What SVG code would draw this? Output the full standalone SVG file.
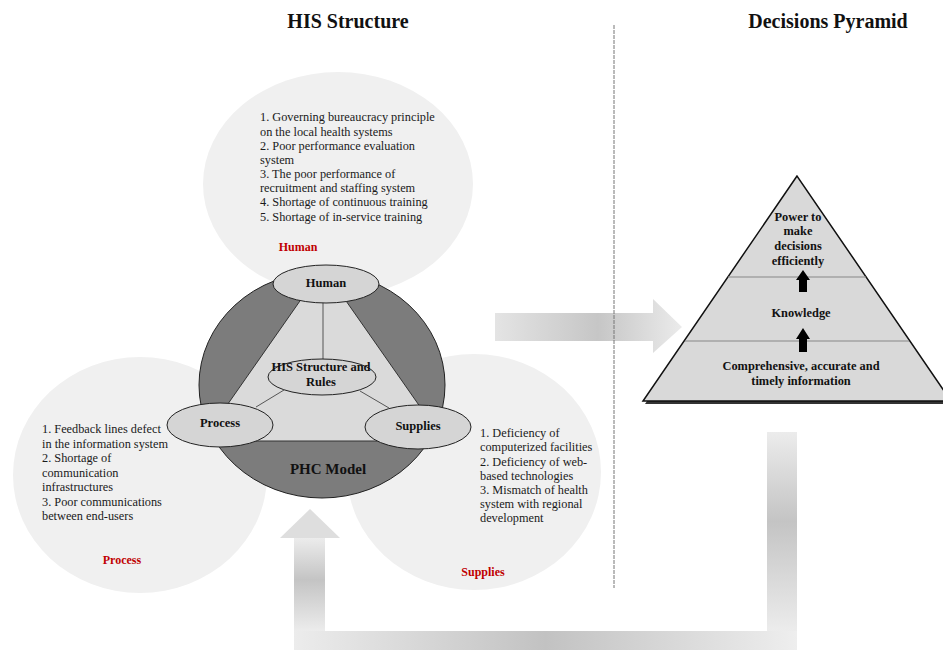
<svg xmlns="http://www.w3.org/2000/svg" width="943" height="650" viewBox="0 0 943 650">
<style>
.title{font-family:"Liberation Serif",serif;font-weight:bold;font-size:20px;fill:#111;text-anchor:middle}
.body{font-family:"Liberation Serif",serif;font-size:12.3px;fill:#1a1a1a}
.red{font-family:"Liberation Serif",serif;font-weight:bold;font-size:12px;fill:#c00000;text-anchor:middle}
.lbl{font-family:"Liberation Serif",serif;font-weight:bold;font-size:12.5px;fill:#111;text-anchor:middle}
.pyr{font-family:"Liberation Serif",serif;font-weight:bold;font-size:12.4px;fill:#111;text-anchor:middle}
.bg{fill:#f0f0f0}
.node{fill:#d5d5d5;stroke:#222;stroke-width:1}
.link{stroke:#333;stroke-width:0.8;fill:none}
</style>
<defs>
<linearGradient id="gh" x1="0" y1="0" x2="1" y2="0">
<stop offset="0" stop-color="#e4e4e4"/><stop offset="0.55" stop-color="#c6c6c6"/><stop offset="1" stop-color="#ebebeb"/>
</linearGradient>
<linearGradient id="gv" x1="0" y1="0" x2="0" y2="1">
<stop offset="0" stop-color="#ececec"/><stop offset="0.45" stop-color="#c4c4c4"/><stop offset="1" stop-color="#ececec"/>
</linearGradient>
<linearGradient id="gb" x1="0" y1="0" x2="1" y2="0">
<stop offset="0" stop-color="#ececec"/><stop offset="0.5" stop-color="#c2c2c2"/><stop offset="1" stop-color="#eeeeee"/>
</linearGradient>
</defs>
<rect width="943" height="650" fill="#ffffff"/>

<text class="title" x="348" y="28">HIS Structure</text>
<text class="title" x="828" y="28">Decisions Pyramid</text>

<g id="human-area">
<ellipse class="bg" cx="338" cy="184" rx="135" ry="112"/>
<text class="body" x="260" y="121">1. Governing bureaucracy principle</text>
<text class="body" x="260" y="136">on the local health systems</text>
<text class="body" x="260" y="150">2. Poor performance evaluation</text>
<text class="body" x="260" y="164">system</text>
<text class="body" x="260" y="178">3. The poor performance of</text>
<text class="body" x="260" y="192">recruitment and staffing system</text>
<text class="body" x="260" y="206">4. Shortage of continuous training</text>
<text class="body" x="260" y="221">5. Shortage of in-service training</text>
<text class="red" x="298" y="251">Human</text>
</g>

<g id="process-area">
<ellipse class="bg" cx="140" cy="475" rx="127" ry="118"/>
<text class="body" x="42" y="433">1. Feedback lines defect</text>
<text class="body" x="42" y="447.5">in the information system</text>
<text class="body" x="42" y="462">2. Shortage of</text>
<text class="body" x="42" y="476.5">communication</text>
<text class="body" x="42" y="491">infrastructures</text>
<text class="body" x="42" y="505.5">3. Poor communications</text>
<text class="body" x="42" y="520">between end-users</text>
<text class="red" x="122" y="564">Process</text>
</g>

<g id="supplies-area">
<ellipse class="bg" cx="474" cy="472" rx="127" ry="118"/>
<text class="body" x="480" y="437">1. Deficiency of</text>
<text class="body" x="480" y="451">computerized facilities</text>
<text class="body" x="480" y="465.5">2. Deficiency of web-</text>
<text class="body" x="480" y="479.5">based technologies</text>
<text class="body" x="480" y="494">3. Mismatch of health</text>
<text class="body" x="480" y="508">system with regional</text>
<text class="body" x="480" y="522">development</text>
<text class="red" x="483" y="576">Supplies</text>
</g>

<g id="phc-model">
<ellipse cx="322" cy="385" rx="123" ry="113" fill="#7c7c7c" stroke="#222" stroke-width="1"/>
<polygon points="323,268 202,441 444,441" fill="#dadada" stroke="#333" stroke-width="1"/>
<text class="lbl" x="328" y="474" style="font-size:15px">PHC Model</text>
</g>

<g id="connectors">
<line class="link" x1="323" y1="302" x2="323" y2="360"/>
<line class="link" x1="284" y1="390" x2="256" y2="407"/>
<line class="link" x1="360" y1="391" x2="389" y2="408"/>
<polygon points="495,313 653,313 653,299 682,327 653,353 653,341 495,341" fill="url(#gh)"/>
<rect x="767" y="432" width="30" height="199" fill="url(#gv)"/>
<rect x="294" y="631" width="503" height="30" fill="url(#gb)"/>
<rect x="294" y="538" width="31" height="93" fill="url(#gv)"/>
<polygon points="280,538 310,509 340,538" fill="#dedede"/>
<line x1="614" y1="25" x2="614" y2="588" stroke="#777" stroke-width="1" stroke-dasharray="4,1"/>
</g>

<g id="node-human">
<ellipse class="node" cx="326" cy="284" rx="53" ry="19"/>
<text class="lbl" x="326" y="287">Human</text>
</g>
<g id="node-his">
<ellipse class="node" cx="322" cy="377" rx="54" ry="18"/>
<text class="lbl" x="321" y="371">HIS Structure and</text>
<text class="lbl" x="321" y="386">Rules</text>
</g>
<g id="node-process">
<ellipse class="node" cx="220" cy="425" rx="53" ry="22"/>
<text class="lbl" x="220" y="427">Process</text>
</g>
<g id="node-supplies">
<ellipse class="node" cx="418" cy="427" rx="53" ry="22"/>
<text class="lbl" x="418" y="430">Supplies</text>
</g>

<g id="pyramid">
<polygon points="799,179 645,404 953,404" fill="#333"/>
<polygon points="797,176 643,401 951,401" fill="#d9d9d9" stroke="#111" stroke-width="1.5"/>
<line x1="728" y1="277" x2="866" y2="277" stroke="#888" stroke-width="1.2"/>
<line x1="685" y1="341" x2="909" y2="341" stroke="#888" stroke-width="1.2"/>
<text class="pyr" x="798" y="221">Power to</text>
<text class="pyr" x="798" y="235">make</text>
<text class="pyr" x="798" y="250">decisions</text>
<text class="pyr" x="798" y="265">efficiently</text>
<path d="M803,270 L810,280 L807,280 L807,292 L799,292 L799,280 L796,280 Z" fill="#000"/>
<text class="pyr" x="801" y="317">Knowledge</text>
<path d="M803,328 L810,339 L807,339 L807,352 L799,352 L799,339 L796,339 Z" fill="#000"/>
<text class="pyr" x="801" y="370">Comprehensive, accurate and</text>
<text class="pyr" x="801" y="385">timely information</text>
</g>
</svg>
